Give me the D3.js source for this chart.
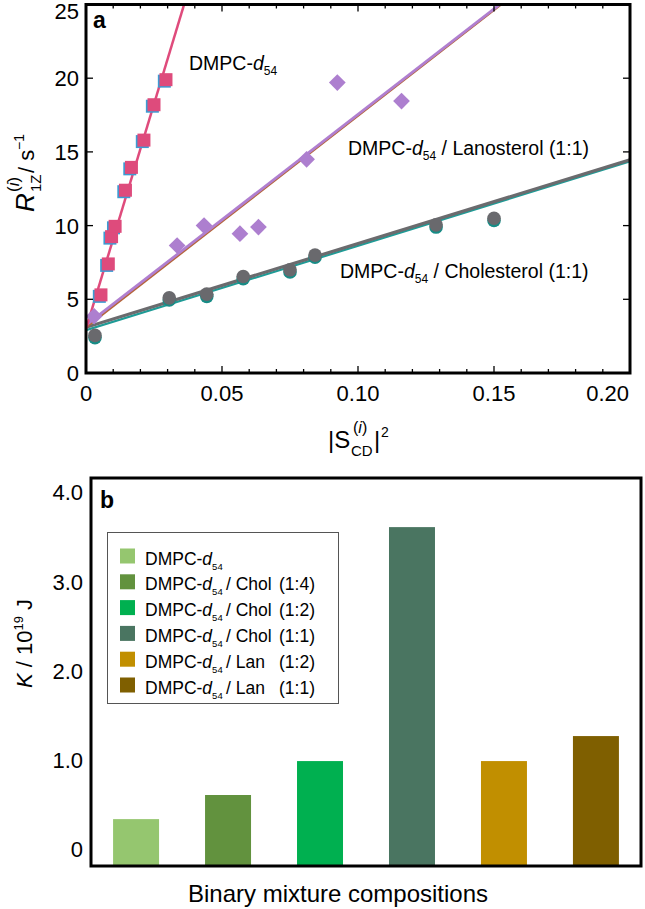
<!DOCTYPE html>
<html><head><meta charset="utf-8">
<script src="https://cdn.jsdelivr.net/npm/d3@7"></script>
<style>
html,body{margin:0;padding:0;background:#fff;}
svg{display:block;font-family:"Liberation Sans",Arial,Helvetica,sans-serif;}
</style></head>
<body>
<svg id="chart" width="645" height="909"></svg>
<script>
// ---------- Panel a data ----------
const xTicksA = [0, 0.05, 0.10, 0.15, 0.20];
const xTickLabelsA = ["0", "0.05", "0.10", "0.15", "0.20"];
const yTicksA = [0, 5, 10, 15, 20, 25];
const yTickLabelsA = ["0", "5", "10", "15", "20", "25"];

const dmpcX = [0.0055, 0.0082, 0.0094, 0.0107, 0.0145, 0.0167, 0.0213, 0.0250, 0.0294];
const dmpcY = [5.3, 7.4, 9.25, 9.95, 12.4, 13.95, 15.8, 18.2, 19.9];
const dmpcX2 = [0.0049, 0.0076, 0.0088, 0.0101, 0.0139, 0.0161, 0.0207, 0.0244, 0.0288];
const dmpcY2 = [5.2, 7.3, 9.15, 9.85, 12.3, 13.85, 15.7, 18.1, 19.8];

const lanX = [0.0030, 0.0335, 0.0434, 0.0566, 0.0634, 0.0811, 0.0924, 0.1160];
const lanY = [3.85, 8.65, 10.0, 9.45, 9.9, 14.5, 19.7, 18.45];

const cholX = [0.0033, 0.0306, 0.0444, 0.0578, 0.0750, 0.0842, 0.1287, 0.1500];
const cholY = [2.55, 5.1, 5.35, 6.55, 7.0, 8.0, 10.05, 10.5];
const cholY2 = [2.4, 4.95, 5.2, 6.4, 6.85, 7.85, 9.9, 10.35];

// linear fits: [intercept, slope]
const fitDmpc = [3.0, 610];
const fitLan = [3.25, 143];
const fitLan2 = [3.1, 143.5];
const fitChol = [3.1, 56.8];
const fitChol2 = [2.9, 57.3];

const seriesLabelsA = ["DMPC-d54", "DMPC-d54 / Lanosterol (1:1)", "DMPC-d54 / Cholesterol (1:1)"];

// ---------- Panel b data ----------
const categoriesB = ["DMPC-d54", "DMPC-d54 / Chol (1:4)", "DMPC-d54 / Chol (1:2)", "DMPC-d54 / Chol (1:1)", "DMPC-d54 / Lan (1:2)", "DMPC-d54 / Lan (1:1)"];
const legendNames = ["DMPC-d54", "DMPC-d54", "DMPC-d54", "DMPC-d54", "DMPC-d54", "DMPC-d54"];
const legendPartners = ["", "/ Chol", "/ Chol", "/ Chol", "/ Lan", "/ Lan"];
const legendRatios = ["", "(1:4)", "(1:2)", "(1:1)", "(1:2)", "(1:1)"];
const valuesB = [0.34, 0.61, 0.99, 3.61, 0.99, 1.27];
const colorsB = ["#95c66f", "#62923e", "#00b050", "#4a7561", "#c18f00", "#7f5f00"];
const yTicksB = [0, 1, 2, 3, 4];
const yTickLabelsB = ["0", "1.0", "2.0", "3.0", "4.0"];

// ---------- helpers ----------
const svg = d3.select("#chart");

// writes "DMPC-d54 ..." with italic d and subscript 54
function richLabel(textSel, str, subSize, subDy) {
  const m = str.match(/^(.*?-)d(\d+)(.*)$/);
  if (!m) { textSel.text(str); return; }
  textSel.append("tspan").text(m[1]);
  textSel.append("tspan").attr("font-style", "italic").text("d");
  textSel.append("tspan").attr("font-size", subSize).attr("dy", subDy).text(m[2]);
  if (m[3]) textSel.append("tspan").attr("dy", -subDy).text(m[3]);
}

// ================= Panel a =================
const xA = d3.scaleLinear().domain([0, 0.2]).range([86, 630]);
const yA = d3.scaleLinear().domain([0, 25]).range([373, 4.5]);

svg.append("clipPath").attr("id", "clipA").append("rect")
  .attr("x", xA(0)).attr("y", yA(25)).attr("width", xA(0.2) - xA(0)).attr("height", yA(0) - yA(25));

const gA = svg.append("g");
const plotA = gA.append("g").attr("clip-path", "url(#clipA)");

function fitLine(fit, color, w) {
  const pts = [0, 0.2].map(v => [xA(v), yA(fit[0] + fit[1] * v)]);
  plotA.append("path").attr("d", d3.line()(pts)).attr("stroke", color)
    .attr("stroke-width", w).attr("fill", "none");
}
fitLine(fitChol2, "#1f9b96", 2.2);
fitLine(fitChol, "#6b6b6e", 3.2);
fitLine(fitLan2, "#b5653a", 2.2);
fitLine(fitLan, "#b07fd0", 2.8);
fitLine(fitDmpc, "#df4b7c", 2.5);

// markers
const sq = 13;
function squares(xs, ys, color) {
  plotA.selectAll(null).data(xs).enter().append("rect")
    .attr("x", (d) => xA(d) - sq / 2).attr("y", (d, i) => yA(ys[i]) - sq / 2)
    .attr("width", sq).attr("height", sq).attr("fill", color);
}
squares(dmpcX2, dmpcY2, "#3c9bd3");
squares(dmpcX, dmpcY, "#de4b7c");

const diamond = d3.symbol().type(d3.symbolSquare).size(140);
plotA.selectAll(null).data(lanX).enter().append("path")
  .attr("d", diamond)
  .attr("transform", (d, i) => `translate(${xA(d)},${yA(lanY[i])}) rotate(45)`)
  .attr("fill", "#ad7fcf");

plotA.selectAll(null).data(cholX).enter().append("circle")
  .attr("cx", d => xA(d)).attr("cy", (d, i) => yA(cholY2[i])).attr("r", 6.8).attr("fill", "#178c86");
plotA.selectAll(null).data(cholX).enter().append("circle")
  .attr("cx", d => xA(d)).attr("cy", (d, i) => yA(cholY[i])).attr("r", 6.8).attr("fill", "#69696d");

// ticks (inside)
const minorA = d3.range(0, 21).map(i => i / 100);
minorA.forEach(v => {
  const major = Math.abs((v * 100) % 5) < 1e-6;
  const L = major ? 7 : 4;
  gA.append("line").attr("x1", xA(v)).attr("x2", xA(v)).attr("y1", yA(0)).attr("y2", yA(0) - L)
    .attr("stroke", "#000").attr("stroke-width", 1.3);
  gA.append("line").attr("x1", xA(v)).attr("x2", xA(v)).attr("y1", yA(25)).attr("y2", yA(25) + L)
    .attr("stroke", "#000").attr("stroke-width", 1.3);
});
yTicksA.forEach(v => {
  gA.append("line").attr("x1", xA(0)).attr("x2", xA(0) + 7).attr("y1", yA(v)).attr("y2", yA(v))
    .attr("stroke", "#000").attr("stroke-width", 1.3);
  gA.append("line").attr("x1", xA(0.2)).attr("x2", xA(0.2) - 7).attr("y1", yA(v)).attr("y2", yA(v))
    .attr("stroke", "#000").attr("stroke-width", 1.3);
});

// frame
gA.append("rect").attr("x", xA(0)).attr("y", yA(25)).attr("width", xA(0.2) - xA(0))
  .attr("height", yA(0) - yA(25)).attr("fill", "none").attr("stroke", "#000").attr("stroke-width", 3);

// tick labels
yTicksA.forEach((v, i) => {
  gA.append("text").attr("x", 79).attr("y", Math.max(yA(v), 11)).attr("dy", "0.36em")
    .attr("text-anchor", "end").attr("font-size", 22).text(yTickLabelsA[i]);
});
xTicksA.forEach((v, i) => {
  const last = i === xTicksA.length - 1;
  gA.append("text").attr("x", last ? xA(v) - 1 : xA(v)).attr("y", 401)
    .attr("text-anchor", last ? "end" : "middle").attr("font-size", 22).text(xTickLabelsA[i]);
});

// panel letter
gA.append("text").attr("x", 93).attr("y", 28).attr("font-size", 23).attr("font-weight", "bold").text("a");

// series labels
const labPos = [[189, 70], [348, 155], [340, 278]];
seriesLabelsA.forEach((s, i) => {
  const t = gA.append("text").attr("x", labPos[i][0]).attr("y", labPos[i][1]).attr("font-size", 19.5);
  richLabel(t, s, 12, 5);
});

// y title (rotated)
const yt = gA.append("g").attr("transform", "translate(34,212) rotate(-90)");
yt.append("text").attr("x", 0).attr("y", 0).attr("font-size", 26).attr("font-style", "italic").text("R");
yt.append("text").attr("x", 20).attr("y", 7).attr("font-size", 15).text("1Z");
const ysup = yt.append("text").attr("x", 20).attr("y", -15).attr("font-size", 17);
ysup.append("tspan").text("(");
ysup.append("tspan").attr("font-style", "italic").text("i");
ysup.append("tspan").text(")");
yt.append("text").attr("x", 39).attr("y", 0).attr("font-size", 22).text("/ s");
yt.append("text").attr("x", 62).attr("y", -10).attr("font-size", 14).text("\u22121");

// x title
const xt = gA.append("g").attr("transform", "translate(328,448)");
xt.append("text").attr("x", 0).attr("y", 0).attr("font-size", 24).text("|S");
xt.append("text").attr("x", 23).attr("y", 8).attr("font-size", 15).text("CD");
const xsup = xt.append("text").attr("x", 25).attr("y", -15).attr("font-size", 16);
xsup.append("tspan").text("(");
xsup.append("tspan").attr("font-style", "italic").text("i");
xsup.append("tspan").text(")");
xt.append("text").attr("x", 46).attr("y", 0).attr("font-size", 24).text("|");
xt.append("text").attr("x", 53).attr("y", -11).attr("font-size", 14).text("2");

// ================= Panel b =================
const xB = d3.scaleBand().domain(categoriesB).range([91, 641]).paddingInner(0.5).paddingOuter(0.24);
const yB = d3.scaleLinear().domain([-0.185, 4.16]).range([866, 478]);
const gB = svg.append("g");

gB.selectAll(null).data(valuesB).enter().append("rect")
  .attr("x", (d, i) => xB(categoriesB[i])).attr("width", xB.bandwidth())
  .attr("y", d => yB(d)).attr("height", d => yB(-0.185) - yB(d))
  .attr("fill", (d, i) => colorsB[i]);

gB.append("rect").attr("x", 91).attr("y", yB(4.16)).attr("width", 550).attr("height", yB(-0.185) - yB(4.16))
  .attr("fill", "none").attr("stroke", "#000").attr("stroke-width", 3);

yTicksB.forEach((v, i) => {
  gB.append("text").attr("x", 83).attr("y", yB(v)).attr("dy", "0.36em")
    .attr("text-anchor", "end").attr("font-size", 22).text(yTickLabelsB[i]);
});

gB.append("text").attr("x", 100).attr("y", 508).attr("font-size", 23).attr("font-weight", "bold").text("b");

// legend
const lg = gB.append("g");
lg.append("rect").attr("x", 107.5).attr("y", 532.5).attr("width", 231).attr("height", 171)
  .attr("fill", "#fff").attr("stroke", "#555").attr("stroke-width", 1);
legendNames.forEach((n, i) => {
  const cy = 556 + i * 25.8;
  lg.append("rect").attr("x", 120).attr("y", cy - 7.5).attr("width", 15).attr("height", 15).attr("fill", colorsB[i]);
  const t = lg.append("text").attr("x", 145).attr("y", cy + 8.5).attr("font-size", 17.5);
  richLabel(t, n, 9.5, 5);
  if (legendPartners[i]) {
    lg.append("text").attr("x", 226).attr("y", cy + 8.5).attr("font-size", 17.5).text(legendPartners[i]);
    lg.append("text").attr("x", 279).attr("y", cy + 8.5).attr("font-size", 17.5).text(legendRatios[i]);
  }
});

// y title b
const ytb = gB.append("g").attr("transform", "translate(32,688) rotate(-90)");
const ytbt = ytb.append("text").attr("x", 0).attr("y", 0).attr("font-size", 22);
ytbt.append("tspan").attr("font-style", "italic").text("K");
ytbt.append("tspan").text(" / 10");
ytbt.append("tspan").attr("font-size", 13).attr("dy", -9).text("19");
ytbt.append("tspan").attr("dy", 9).text(" J");

// x title b
gB.append("text").attr("x", 338).attr("y", 902).attr("text-anchor", "middle").attr("font-size", 24)
  .text("Binary mixture compositions");
</script>
</body></html>
